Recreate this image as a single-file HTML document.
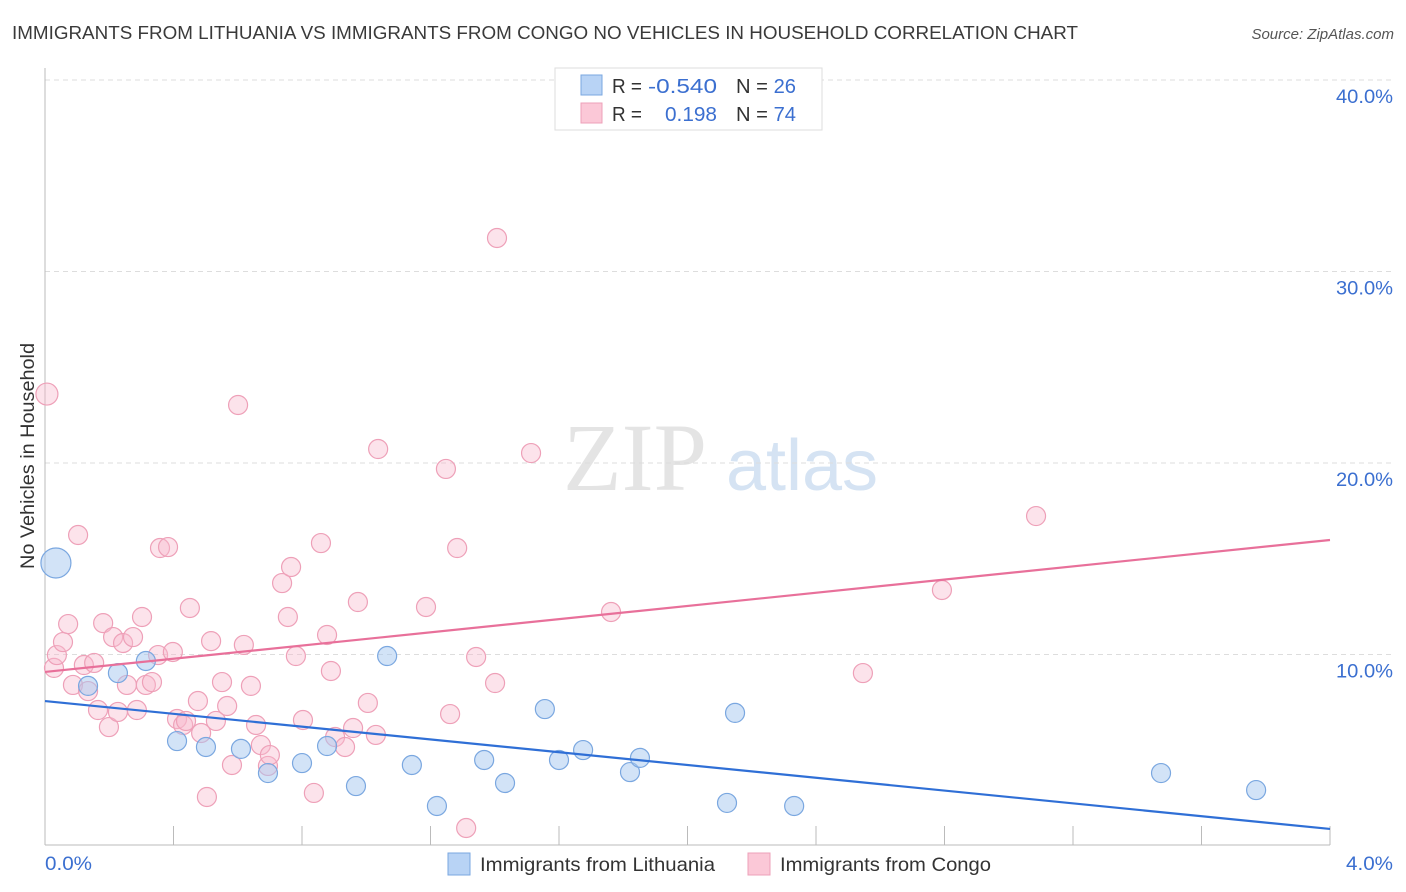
<!DOCTYPE html>
<html><head><meta charset="utf-8"><style>
body{margin:0;background:#fff;font-family:"Liberation Sans",sans-serif}
svg{display:block}
</style></head><body>
<svg id="chart" width="1406" height="892" xmlns="http://www.w3.org/2000/svg">
<text x="12" y="39" font-size="18" fill="#3a3a3a" textLength="1066" lengthAdjust="spacingAndGlyphs">IMMIGRANTS FROM LITHUANIA VS IMMIGRANTS FROM CONGO NO VEHICLES IN HOUSEHOLD CORRELATION CHART</text>
<text x="1394" y="39" font-size="15" fill="#555" font-style="italic" text-anchor="end">Source: ZipAtlas.com</text>
<g>
<text x="635" y="490" font-size="96" fill="#e4e4e4" font-family="Liberation Serif,serif" text-anchor="middle">ZIP</text>
<text x="802" y="490" font-size="72" fill="#d5e3f3" text-anchor="middle">atlas</text>
</g>
<g id="grid"></g>
<g id="axes"></g>
<g id="marks"></g>
<text transform="translate(34,456) rotate(-90)" font-size="19" fill="#333" text-anchor="middle" textLength="226" lengthAdjust="spacingAndGlyphs">No Vehicles in Household</text>
<text x="45" y="870" font-size="19" fill="#3b6fd0" textLength="47" lengthAdjust="spacingAndGlyphs">0.0%</text>
<text x="1346" y="870" font-size="19" fill="#3b6fd0" textLength="47" lengthAdjust="spacingAndGlyphs">4.0%</text>
<g>
<rect x="555" y="68" width="267" height="62" fill="#fff" stroke="#ddd"/>
<rect x="581" y="75" width="21" height="20" fill="#b8d3f5" stroke="#7aa7e0"/>
<rect x="581" y="103" width="21" height="20" fill="#fbc8d7" stroke="#eea0b8"/>
<text x="612" y="93" font-size="20" fill="#333" textLength="30" lengthAdjust="spacingAndGlyphs">R =</text>
<text x="648" y="93" font-size="20" fill="#3b6fd0" textLength="69" lengthAdjust="spacingAndGlyphs">-0.540</text>
<text x="736" y="93" font-size="20" fill="#333" textLength="60" lengthAdjust="spacingAndGlyphs">N = <tspan fill="#3b6fd0">26</tspan></text>
<text x="612" y="121" font-size="20" fill="#333" textLength="30" lengthAdjust="spacingAndGlyphs">R =</text>
<text x="665" y="121" font-size="20" fill="#3b6fd0" textLength="52" lengthAdjust="spacingAndGlyphs">0.198</text>
<text x="736" y="121" font-size="20" fill="#333" textLength="60" lengthAdjust="spacingAndGlyphs">N = <tspan fill="#3b6fd0">74</tspan></text>
</g>
<g>
<rect x="448" y="853" width="22" height="22" fill="#b8d3f5" stroke="#7aa7e0"/>
<text x="480" y="871" font-size="19.5" fill="#333" textLength="235" lengthAdjust="spacingAndGlyphs">Immigrants from Lithuania</text>
<rect x="748" y="853" width="22" height="22" fill="#fbc8d7" stroke="#eea0b8"/>
<text x="780" y="871" font-size="19.5" fill="#333" textLength="211" lengthAdjust="spacingAndGlyphs">Immigrants from Congo</text>
</g>
</svg>
<script>
const yTicks=[10,20,30,40];
const yTickLabels=["10.0%","20.0%","30.0%","40.0%"];
const xTicks=[0,0.4,0.8,1.2,1.6,2.0,2.4,2.8,3.2,3.6,4.0];
const lithX=[0.034,0.134,0.227,0.314,0.411,0.501,0.610,0.694,0.800,0.878,0.968,1.065,1.142,1.220,1.367,1.432,1.556,1.600,1.675,1.821,1.852,2.148,2.123,2.332,3.474,3.770];
const lithY=[14.78,8.36,9.03,9.66,5.48,5.17,5.07,3.81,4.33,5.22,3.13,9.92,4.23,2.09,4.49,3.29,7.15,4.49,5.01,3.86,4.60,6.95,2.25,2.09,3.81,2.92];
const congoX=[0.006,0.103,0.028,0.037,0.056,0.072,0.087,0.134,0.121,0.153,0.165,0.181,0.199,0.212,0.227,0.243,0.255,0.274,0.286,0.302,0.314,0.333,0.352,0.358,0.383,0.398,0.411,0.430,0.439,0.451,0.476,0.486,0.504,0.517,0.532,0.551,0.567,0.582,0.601,0.619,0.641,0.657,0.672,0.694,0.700,0.738,0.756,0.766,0.781,0.803,0.837,0.859,0.878,0.890,0.903,0.934,0.959,0.974,1.005,1.030,1.037,1.186,1.248,1.261,1.283,1.311,1.342,1.401,1.407,1.513,1.762,2.546,2.792,3.085];
const congoY=[23.60,16.24,9.30,9.97,10.65,11.59,8.41,8.09,9.45,9.56,7.10,11.64,6.21,10.91,7.00,10.60,8.41,10.91,7.10,11.96,8.41,8.56,9.97,15.56,15.61,10.13,6.63,6.32,6.53,12.43,7.57,5.90,2.56,10.70,6.53,8.56,7.31,4.23,23.03,10.50,8.36,6.32,5.27,4.18,4.75,13.73,11.96,14.57,9.92,6.58,2.77,15.82,11.02,9.14,5.69,5.17,6.16,12.74,7.47,5.80,20.73,12.48,19.69,6.89,15.56,0.94,9.87,8.51,31.75,20.52,12.22,9.03,13.37,17.23];
const lithTrend=[7.57,0.89];
const congoTrend=[9.09,15.98];
const lithSizes=[15];
const congoSizes=[11];
const NS="http://www.w3.org/2000/svg";
const X0=45,X1=1330,Y0=846,PXPER=19.15;
const sx=v=>X0+(v/4)*(X1-X0);
const sy=v=>Y0-v*PXPER;
function mk(tag,attrs,parent){const e=document.createElementNS(NS,tag);for(const k in attrs)e.setAttribute(k,attrs[k]);parent.appendChild(e);return e;}
const grid=document.getElementById('grid'),axes=document.getElementById('axes'),marks=document.getElementById('marks');
yTicks.forEach((t,i)=>{
 const l=mk('line',{x1:X0,x2:1393,y1:sy(t),y2:sy(t),stroke:'#ddd','stroke-dasharray':'5,4'},grid);
 
 
 const tx=mk('text',{x:1336,y:sy(t)+23,'font-size':19,fill:'#3b6fd0',textLength:57,lengthAdjust:'spacingAndGlyphs'},grid);
 tx.textContent=yTickLabels[i];
 
 
});
const ya=mk('line',{x1:X0,x2:X0,y1:68,y2:845,stroke:'#bbb'},axes);


const xa=mk('line',{x1:X0,x2:X1,y1:845,y2:845,stroke:'#bbb'},axes);


xTicks.forEach(t=>{
 const k=mk('line',{x1:sx(t),x2:sx(t),y1:826,y2:845,stroke:'#bbb'},axes);
 
 
});
congoX.forEach((x,i)=>{
 const c=mk('circle',{cx:sx(x),cy:sy(congoY[i]),r:i===0?congoSizes[0]:9.5,fill:'rgba(248,185,205,0.4)',stroke:'#eea0b8','stroke-width':1.2},marks);
 
 
});
lithX.forEach((x,i)=>{
 const c=mk('circle',{cx:sx(x),cy:sy(lithY[i]),r:i===0?lithSizes[0]:9.5,fill:'rgba(165,200,240,0.5)',stroke:'#7aa7e0','stroke-width':1.2},marks);
 
 
});
const lt=mk('line',{x1:sx(0),x2:sx(4),y1:sy(lithTrend[0]),y2:sy(lithTrend[1]),stroke:'#2f6fd6','stroke-width':2.2},marks);


const ct=mk('line',{x1:sx(0),x2:sx(4),y1:sy(congoTrend[0]),y2:sy(congoTrend[1]),stroke:'#e8709a','stroke-width':2.2},marks);


</script>
</body></html>
